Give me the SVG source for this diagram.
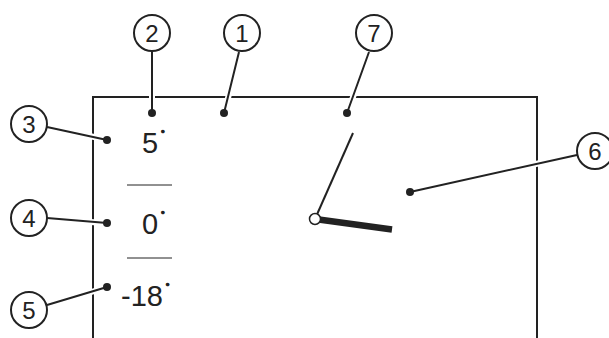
<svg xmlns="http://www.w3.org/2000/svg" width="609" height="338" viewBox="0 0 609 338">
<style>
.frame{fill:none;stroke:#222;stroke-width:2}
.halo{fill:none;stroke:#fff;stroke-width:6}
.lead{fill:none;stroke:#222;stroke-width:2}
.callout{fill:#fff;stroke:#222;stroke-width:2}
.num{font-family:"Liberation Sans",Arial,sans-serif;font-size:24px;fill:#222;text-anchor:middle}
.val{font-family:"Liberation Sans",Arial,sans-serif;font-size:29px;fill:#222}
.deg{font-size:8px;font-weight:bold;stroke:#222;stroke-width:1.2}
.dot{fill:#222}
.sep{stroke:#222;stroke-width:1}
</style>
<rect width="609" height="338" fill="#fff"/>
<g id="frame">
<path class="frame" d="M93,338 V97 H537 V338"/>
</g>
<g id="scale">
<text class="val" x="142" y="153">5<tspan class="deg" dx="3" dy="-17">°</tspan></text>
<line class="sep" x1="127" y1="185" x2="172" y2="185"/>
<text class="val" x="142" y="234">0<tspan class="deg" dx="3" dy="-17">°</tspan></text>
<line class="sep" x1="127" y1="258" x2="172" y2="258"/>
<text class="val" x="121" y="306">-18<tspan class="deg" dx="3" dy="-17">°</tspan></text>
</g>
<g id="needle">
<line x1="353" y1="133" x2="315" y2="219" stroke="#222" stroke-width="2"/>
<line x1="315" y1="219" x2="392" y2="229.5" stroke="#222" stroke-width="6.5"/>
<circle cx="315" cy="219" r="5.5" fill="#fff" stroke="#222" stroke-width="1.5"/>
</g>
<g id="connectors">
<path class="halo" d="M152,60 V110 M238,58 L225,110 M50,128 L104,139 M50,219 L104,223 M50,305 L104,288 M368,58 L348,110 M572,156 L413,191"/>
<path class="lead" d="M152,52 V113 M239,52 L224,113 M47,127 L107,140 M47,218 L107,223 M47,305 L107,287 M369,52 L347,113 M577,155 L410,192"/>
</g>
<g id="callout-1"><circle class="callout" cx="242" cy="33" r="18"/><text class="num" x="242" y="41.5">1</text><circle class="dot" cx="224" cy="113" r="4"/></g>
<g id="callout-2"><circle class="callout" cx="152" cy="33" r="18"/><text class="num" x="152" y="41.5">2</text><circle class="dot" cx="152" cy="113" r="4"/></g>
<g id="callout-3"><circle class="callout" cx="29" cy="124" r="18"/><text class="num" x="29" y="132.5">3</text><circle class="dot" cx="107" cy="140" r="4"/></g>
<g id="callout-4"><circle class="callout" cx="29" cy="218" r="18"/><text class="num" x="29" y="226.5">4</text><circle class="dot" cx="107" cy="223" r="4"/></g>
<g id="callout-5"><circle class="callout" cx="29" cy="310" r="18"/><text class="num" x="29" y="318.5">5</text><circle class="dot" cx="107" cy="287" r="4"/></g>
<g id="callout-6"><circle class="callout" cx="595" cy="151" r="18"/><text class="num" x="595" y="159.5">6</text><circle class="dot" cx="410" cy="192" r="4"/></g>
<g id="callout-7"><circle class="callout" cx="374" cy="33" r="18"/><text class="num" x="374" y="41.5">7</text><circle class="dot" cx="347" cy="113" r="4"/></g>
</svg>
